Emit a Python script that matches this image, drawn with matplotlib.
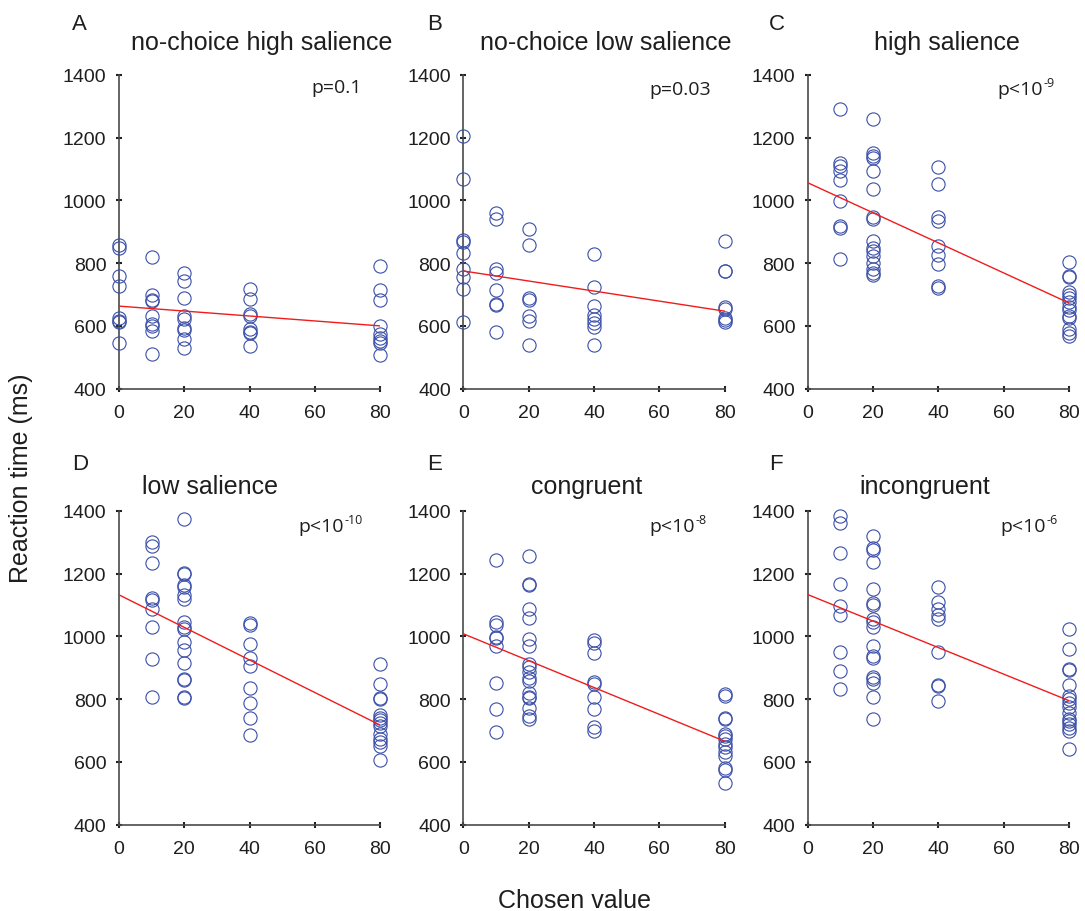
import matplotlib
matplotlib.use("Agg")
import matplotlib.pyplot as plt

# ---------------- data ----------------
panel_letters = ["A", "B", "C", "D", "E", "F"]
panel_titles = ["no-choice high salience", "no-choice low salience", "high salience",
                "low salience", "congruent", "incongruent"]

rt_A = {0: [859, 847, 758, 727, 625, 616, 612, 547],
        10: [819, 697, 684, 680, 631, 607, 601, 583, 510],
        20: [770, 743, 688, 631, 622, 593, 587, 557, 531],
        40: [717, 686, 638, 630, 591, 582, 576, 536],
        80: [791, 714, 684, 601, 575, 561, 551, 546, 507]}
rt_B = {0: [1206, 1068, 872, 867, 833, 780, 755, 718, 612],
        10: [959, 939, 780, 768, 715, 670, 667, 580],
        20: [909, 859, 690, 684, 630, 617, 538],
        40: [828, 723, 663, 635, 621, 609, 596, 538],
        80: [869, 776, 774, 660, 654, 625, 619, 612]}
rt_C = {10: [1290, 1119, 1109, 1092, 1066, 999, 918, 912, 812],
        20: [1260, 1150, 1142, 1136, 1093, 1036, 946, 941, 869, 848, 840, 824, 801, 782, 769, 763],
        40: [1107, 1053, 948, 933, 855, 826, 796, 726, 722],
        80: [804, 758, 755, 708, 699, 690, 677, 660, 652, 633, 625, 591, 578, 568]}
rt_D = {10: [1299, 1286, 1235, 1122, 1115, 1086, 1031, 929, 808],
        20: [1373, 1203, 1199, 1163, 1158, 1132, 1120, 1046, 1029, 1023, 982, 957, 914, 865, 862, 808, 804],
        40: [1041, 1037, 977, 932, 906, 835, 789, 739, 685],
        80: [912, 847, 803, 799, 749, 739, 732, 723, 714, 690, 674, 664, 651, 606]}
rt_E = {10: [1242, 1047, 1037, 998, 993, 969, 851, 769, 696],
        20: [1257, 1167, 1163, 1086, 1058, 991, 969, 912, 902, 886, 866, 858, 820, 808, 802, 772, 745, 736],
        40: [987, 980, 948, 856, 848, 807, 769, 710, 699],
        80: [817, 811, 740, 736, 690, 681, 672, 658, 649, 633, 619, 581, 574, 534]}
rt_F = {10: [1384, 1361, 1265, 1165, 1097, 1067, 950, 888, 831],
        20: [1320, 1282, 1275, 1238, 1150, 1105, 1101, 1055, 1044, 1031, 969, 937, 930, 870, 863, 852, 807, 738],
        40: [1158, 1108, 1087, 1069, 1055, 951, 845, 842, 794],
        80: [1023, 959, 895, 893, 845, 810, 799, 786, 776, 755, 736, 729, 720, 709, 698, 642]}
panel_data = [rt_A, rt_B, rt_C, rt_D, rt_E, rt_F]

# regression line: fitted RT at chosen value 0 and 80
fit_at_0 = [663, 775, 1056, 1132, 1008, 1133]
fit_at_80 = [600, 647, 673, 717, 666, 795]
fit_x = [0, 80]

p_main = ["p=0.1", "p=0.03", "p<10", "p<10", "p<10", "p<10"]
p_exp = [None, None, "-9", "-10", "-8", "-6"]

xticks = [0, 20, 40, 60, 80]
yticks = [400, 600, 800, 1000, 1200, 1400]

# ---------------- style / layout ----------------
W, H = 1085, 912
fig = plt.figure(figsize=(W / 100, H / 100), dpi=100)
plt.rcParams['font.family'] = ['Liberation Sans', 'DejaVu Sans']

col_left = [119, 463.3, 807.7]
row_top = [75.7, 511.7]
ax_w, ax_h = 261.3, 314.0
letter_pos = [(72, 30), (427, 30), (769, 30), (72, 470), (427, 470), (769, 470)]
title_cx = [261.5, 606, 947, 210, 587, 925]
title_base = [50, 50, 50, 494, 494, 494]
p_pos = [(59, 1346), (57, 1339), (58, 1339), (55, 1336), (57, 1336), (59, 1336)]

blue = "#3a4fa8"
red = "#f01c1c"
spine_c = "#4a4a4a"
txt_c = "#1e1e1e"

for i in range(6):
    r, c = divmod(i, 3)
    left = col_left[c] / W
    bottom = 1 - (row_top[r] + ax_h) / H
    ax = fig.add_axes([left, bottom, ax_w / W, ax_h / H])
    data = panel_data[i]
    for xv, ys in data.items():
        ax.plot([xv] * len(ys), ys, linestyle="none", marker="o", ms=9.5,
                mfc="none", mec=blue, mew=0.8, clip_on=False, zorder=3)
    ax.plot(fit_x, [fit_at_0[i], fit_at_80[i]], color=red, lw=1.0, zorder=4)
    ax.set_xlim(0, 80)
    ax.set_ylim(400, 1400)
    ax.set_xticks(xticks)
    ax.set_yticks(yticks)
    for s in ["top", "right"]:
        ax.spines[s].set_visible(False)
    for s in ["left", "bottom"]:
        ax.spines[s].set_color(spine_c)
        ax.spines[s].set_linewidth(1.2)
    ax.tick_params(direction="inout", length=4, width=1.5, color="#222222",
                   labelsize=14, labelcolor=txt_c)
    ax.tick_params(axis="x", pad=9)
    ax.tick_params(axis="y", pad=7)
    # p-value
    t = ax.text(p_pos[i][0], p_pos[i][1], p_main[i], ha="left", va="baseline",
                fontsize=14, family=["Open Sans", "DejaVu Sans"], color=txt_c)
    if p_exp[i] is not None:
        ax.annotate(p_exp[i], xy=(1.0, 1.0), xycoords=t, xytext=(0.3, 2.5),
                    textcoords="offset points", ha="left", va="top",
                    fontsize=9, family=["Open Sans", "DejaVu Sans"], color=txt_c)
    # letter and title
    fig.text(letter_pos[i][0] / W, 1 - letter_pos[i][1] / H, panel_letters[i],
             ha="left", va="baseline", fontsize=16, color=txt_c)
    fig.text(title_cx[i] / W, 1 - title_base[i] / H, panel_titles[i],
             ha="center", va="baseline", fontsize=18, color=txt_c)

fig.text(21 / W, 1 - 478 / H, "Reaction time (ms)", rotation=90, ha="center",
         va="center", fontsize=18, color=txt_c)
fig.text(574.5 / W, 1 - 908 / H, "Chosen value", ha="center", va="baseline",
         fontsize=18, color=txt_c)

fig.savefig("out.png", dpi=100)
